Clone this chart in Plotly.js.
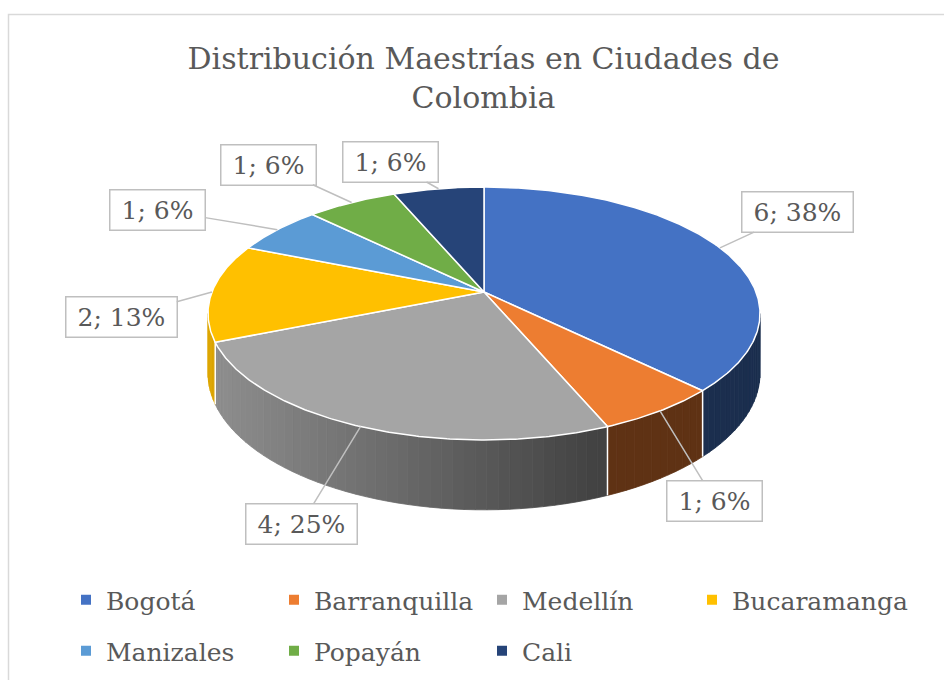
<!DOCTYPE html>
<html>
<head>
<meta charset="utf-8">
<script src="https://cdn.plot.ly/plotly-3.0.1.min.js"></script>
<style>
  html, body { margin: 0; padding: 0; background: #ffffff; }
  #chart { width: 944px; height: 680px; }
</style>
</head>
<body>
<div id="chart"></div>
<script>
// ---------------- data ----------------
const categories = ['Bogotá', 'Barranquilla', 'Medellín', 'Bucaramanga', 'Manizales', 'Popayán', 'Cali'];
const counts = [6, 1, 4, 2, 1, 1, 1];
const sliceColors = ['#4472C4', '#ED7D31', '#A5A5A5', '#FFC000', '#5B9BD5', '#70AD47', '#264478'];
const chartTitle = 'Distribución Maestrías en Ciudades de<br>Colombia';

// ---------------- geometry of the 3-D pie (layout only) ----------------
const CX = 484, CY = 292;        // apex of the pie on the page
const K = 272, KS = 122.8;       // horizontal / vertical radius factors
const P = 0.17;                  // perspective factor
const DEPTH = 58;                // thickness of the pie
// label box offsets (pixels) from each slice's edge midpoint
const labelOffsets = [[78, -36], [55, 90], [-59, 97], [-91, 25], [-120, -20], [-83, -38], [-48, -27]];
// legend group of each entry (row 1 uses two legend boxes so the long last name is not clipped)
const legendGroups = ['legend', 'legend', 'legend', 'legend3', 'legend2', 'legend2', 'legend2'];

const FONT = 'DejaVu Serif';
const TEXT_COLOR = '#595959';

function proj(deg) {
  const t = deg * Math.PI / 180;
  const u = Math.sin(t), v = Math.cos(t);
  const d = 1 + P * v;
  return [CX + K * u / d, CY - KS * v / d, d];
}
function projBottom(deg) {
  const p = proj(deg);
  return [p[0], p[1] + DEPTH / p[2]];
}
function shade(hex, f) {
  const n = parseInt(hex.slice(1), 16);
  const r = Math.round(((n >> 16) & 255) * f);
  const g = Math.round(((n >> 8) & 255) * f);
  const b = Math.round((n & 255) * f);
  return 'rgb(' + r + ',' + g + ',' + b + ')';
}
function arcPoints(a0, a1, stepDeg) {
  const n = Math.max(1, Math.ceil(Math.abs(a1 - a0) / stepDeg));
  const pts = [];
  for (let i = 0; i <= n; i++) pts.push(a0 + (a1 - a0) * i / n);
  return pts;
}

const total = counts.reduce((a, b) => a + b, 0);
const starts = [], ends = [];
let acc = 0;
counts.forEach(c => { starts.push(acc / total * 360); acc += c; ends.push(acc / total * 360); });

const silhouette = Math.acos(-P) * 180 / Math.PI;   // ~99.8 deg
const visLo = silhouette, visHi = 360 - silhouette;

const traces = [];

// ---------- side walls (shaded strips) ----------
categories.forEach((name, i) => {
  const a = Math.max(starts[i], visLo), b = Math.min(ends[i], visHi);
  if (b <= a) return;
  const segs = arcPoints(a, b, 2);
  for (let s = 0; s < segs.length - 1; s++) {
    const sub = arcPoints(segs[s], segs[s + 1], 0.5);
    const xs = [], ys = [];
    sub.forEach(d => { const p = proj(d); xs.push(p[0]); ys.push(p[1]); });
    sub.slice().reverse().forEach(d => { const p = projBottom(d); xs.push(p[0]); ys.push(p[1]); });
    xs.push(xs[0]); ys.push(ys[0]);
    const xm = (proj(segs[s])[0] + proj(segs[s + 1])[0]) / 2;
    const f = Math.min(0.9, Math.max(0.4, 0.85 - (xm - 222) * 0.0012));
    const col = shade(sliceColors[i], f);
    traces.push({
      type: 'scatter', mode: 'lines', x: xs, y: ys, fill: 'toself',
      fillcolor: col, line: { color: col, width: 0.8 },
      hoverinfo: 'skip', showlegend: false
    });
  }
});

// ---------- dividers on the side wall ----------
ends.forEach((e, i) => {
  if (e > visLo && e < visHi) {
    const t = proj(e), bt = projBottom(e);
    traces.push({
      type: 'scatter', mode: 'lines', x: [t[0], bt[0]], y: [t[1], bt[1]],
      line: { color: '#ffffff', width: 1.5 }, hoverinfo: 'skip', showlegend: false
    });
  }
});

// ---------- top faces ----------
categories.forEach((name, i) => {
  const xs = [CX], ys = [CY];
  arcPoints(starts[i], ends[i], 0.5).forEach(d => { const p = proj(d); xs.push(p[0]); ys.push(p[1]); });
  xs.push(CX); ys.push(CY);
  traces.push({
    type: 'scatter', mode: 'lines', x: xs, y: ys, fill: 'toself',
    fillcolor: sliceColors[i], line: { color: '#ffffff', width: 1.5 },
    name: name, text: name + ': ' + counts[i], hoverinfo: 'text', showlegend: false
  });
});

// ---------- legend entries ----------
categories.forEach((name, i) => {
  traces.push({
    type: 'scatter', mode: 'markers', x: [null], y: [null], name: name,
    marker: { symbol: 'square', size: 10, color: sliceColors[i] },
    legend: legendGroups[i], showlegend: true, hoverinfo: 'skip'
  });
});

// ---------- data labels ----------
const LABEL_SIZE = 25;
const canvas = document.createElement('canvas');
const ctx = canvas.getContext('2d');
ctx.font = LABEL_SIZE + 'px "DejaVu Serif"';
const annotations = categories.map((name, i) => {
  const mid = (starts[i] + ends[i]) / 2;
  const p = proj(mid);
  const pct = Math.round(100 * counts[i] / total);
  const txt = counts[i] + '; ' + pct + '%';
  const w = ctx.measureText(txt).width + 12;
  return {
    x: p[0], y: p[1], xref: 'x', yref: 'y',
    text: txt, showarrow: true, arrowhead: 0, arrowwidth: 1.5, arrowcolor: '#bfbfbf',
    standoff: 0, ax: labelOffsets[i][0], ay: labelOffsets[i][1],
    bgcolor: '#ffffff', bordercolor: '#bfbfbf', borderwidth: 1.5, borderpad: 5,
    width: w, align: 'center',
    font: { family: FONT, size: LABEL_SIZE, color: TEXT_COLOR }
  };
});

const legendBase = {
  orientation: 'h', xanchor: 'left', yanchor: 'middle',
  font: { family: FONT, size: 25, color: TEXT_COLOR },
  bgcolor: 'rgba(0,0,0,0)', borderwidth: 0,
  entrywidth: 163, entrywidthmode: 'pixels',
  itemclick: false, itemdoubleclick: false
};

const layout = {
  width: 944, height: 680,
  margin: { l: 0, r: 0, t: 0, b: 0 },
  paper_bgcolor: '#ffffff', plot_bgcolor: '#ffffff',
  title: {
    text: chartTitle,
    font: { family: FONT, size: 30, color: TEXT_COLOR },
    x: 483.5 / 944, xanchor: 'center', xref: 'container',
    y: 1 - 69 / 680, yanchor: 'top', yref: 'container'
  },
  xaxis: { range: [0, 944], visible: false, fixedrange: true },
  yaxis: { range: [680, 0], visible: false, fixedrange: true },
  showlegend: true,
  legend: Object.assign({}, legendBase, { x: 66 / 944, y: 1 - 600 / 680 }),
  legend3: { orientation: 'h', xanchor: 'left', yanchor: 'middle',
             font: { family: FONT, size: 25, color: TEXT_COLOR },
             bgcolor: 'rgba(0,0,0,0)', borderwidth: 0,
             itemclick: false, itemdoubleclick: false,
             x: 692 / 944, y: 1 - 600 / 680 },
  legend2: Object.assign({}, legendBase, { x: 66 / 944, y: 1 - 651 / 680 }),
  annotations: annotations,
  shapes: [{
    type: 'rect', xref: 'x', yref: 'y', x0: 8.5, y0: 14.5, x1: 990, y1: 720,
    line: { color: '#d9d9d9', width: 1.5 }, fillcolor: 'rgba(0,0,0,0)', layer: 'below'
  }]
};

Plotly.newPlot('chart', traces, layout, { displayModeBar: false, staticPlot: false });
</script>
</body>
</html>
